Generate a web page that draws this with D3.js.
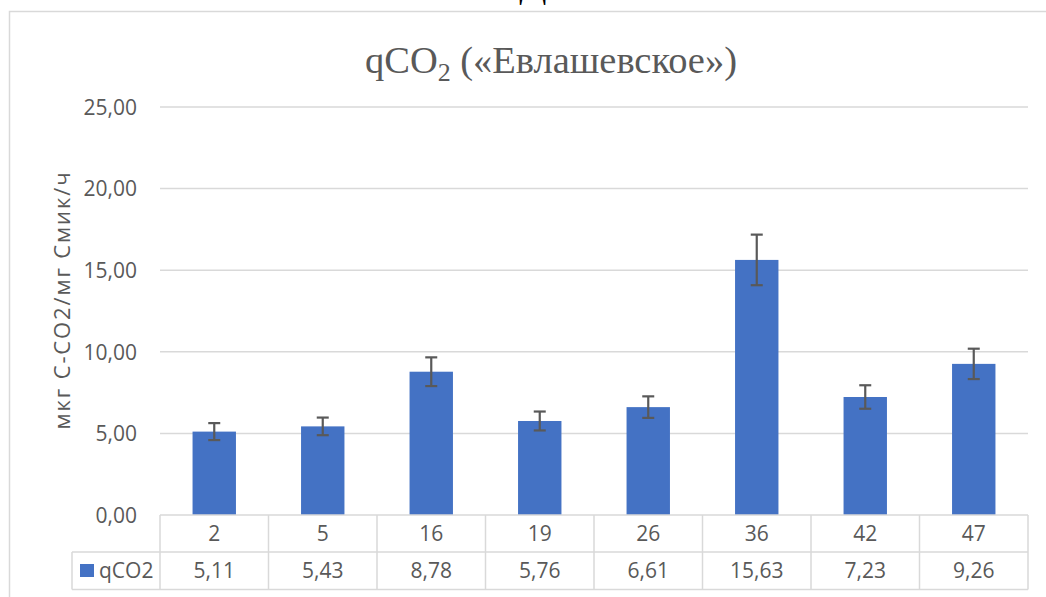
<!DOCTYPE html>
<html><head><meta charset="utf-8">
<script src="https://cdn.jsdelivr.net/npm/d3@7"></script>
<style>body{margin:0;background:#fff;} svg{display:block;}</style>
</head><body>
<svg id="c" width="1046" height="597"></svg>
<script>
const categories = ["2","5","16","19","26","36","42","47"];
const values = [5.11,5.43,8.78,5.76,6.61,15.63,7.23,9.26];
const errors = [0.52,0.54,0.88,0.58,0.66,1.55,0.72,0.93];
const yTicks = [0,5,10,15,20,25];
const seriesName = "qCO2";
const yLabel = "мкг С-СО2/мг Смик/ч";

(function(){
const svg = d3.select("#c");
const grid = "#d9d9d9", txt = "#595959", bar = "#4472c4";
const pL = 160, pR = 1028, pT = 107, pB = 515;
const fs = 21;
const x = d3.scaleBand().domain(categories).range([pL, pR]).paddingInner(0.6).paddingOuter(0.3);
const xCell = d3.scaleBand().domain(categories).range([pL, pR]);
const y = d3.scaleLinear().domain([0,25]).range([pB, pT]);
const fmt = v => d3.format(".2f")(v).replace(".", ",");

// cut-off heading glyph at top
svg.append("text").attr("x", 533).attr("y", -4).attr("text-anchor","middle")
  .attr("font-family","Liberation Serif").attr("font-size",40).attr("fill","#000").text("Д");

// chart border
svg.append("path").attr("d","M9.5,597 V11.5 H1046").attr("fill","none").attr("stroke",grid).attr("stroke-width",1.5);

// title
const t = svg.append("text").attr("x", 551).attr("y", 73).attr("text-anchor","middle")
  .attr("font-family","Liberation Serif").attr("font-size",37).attr("fill",txt)
  .attr("textLength",372).attr("lengthAdjust","spacingAndGlyphs");
t.append("tspan").text("qCO");
t.append("tspan").attr("font-size",25).attr("dy",8).text("2");
t.append("tspan").attr("dy",-8).text(" («Евлашевское»)");

// gridlines
svg.append("g").selectAll("line").data(yTicks.filter(d=>d>0)).join("line")
  .attr("x1", pL).attr("x2", pR).attr("y1", d=>y(d)).attr("y2", d=>y(d))
  .attr("stroke", grid).attr("stroke-width",1.5);

// y axis labels
const yAxis = d3.axisLeft(y).tickValues(yTicks).tickFormat(fmt).tickSize(0).tickPadding(0);
const ga = svg.append("g").attr("transform",`translate(137,0)`).call(yAxis);
ga.select(".domain").remove();
ga.selectAll("text").attr("font-family","Open Sans").attr("font-size",fs).attr("fill",txt).attr("dy","0.35em");

// y label
svg.append("text").attr("transform","translate(70,301) rotate(-90)").attr("text-anchor","middle")
  .attr("font-family","Open Sans").attr("font-size",22).attr("fill",txt)
  .attr("textLength",257).attr("lengthAdjust","spacing").text(yLabel);

// bars
svg.append("g").selectAll("rect").data(values).join("rect")
  .attr("x",(d,i)=>x(categories[i])).attr("width",x.bandwidth())
  .attr("y",d=>y(d)).attr("height",d=>y(0)-y(d)).attr("fill",bar);

// error bars
const eb = svg.append("g").attr("stroke","#595959").attr("stroke-width",2.2);
values.forEach((v,i)=>{
  const cx = x(categories[i]) + x.bandwidth()/2;
  const y1 = y(v+errors[i]), y2 = y(v-errors[i]);
  eb.append("line").attr("x1",cx).attr("x2",cx).attr("y1",y1).attr("y2",y2);
  eb.append("line").attr("x1",cx-6).attr("x2",cx+6).attr("y1",y1).attr("y2",y1);
  eb.append("line").attr("x1",cx-6).attr("x2",cx+6).attr("y1",y2).attr("y2",y2);
});

// data table
const r1 = 515, r2 = 552, r3 = 589.5;
const tg = svg.append("g").attr("stroke",grid).attr("stroke-width",1.5).attr("fill","none");
tg.append("line").attr("x1",pL).attr("x2",pR).attr("y1",r1).attr("y2",r1);
tg.append("line").attr("x1",72).attr("x2",pR).attr("y1",r2).attr("y2",r2);
tg.append("line").attr("x1",72).attr("x2",pR).attr("y1",r3).attr("y2",r3);
tg.append("line").attr("x1",72).attr("x2",72).attr("y1",r2).attr("y2",r3);
const bounds = categories.map(c=>xCell(c)).concat([pR]);
tg.selectAll("line.v").data(bounds).join("line").attr("class","v")
  .attr("x1",d=>d).attr("x2",d=>d).attr("y1",r1).attr("y2",r3);

svg.append("g").selectAll("text").data(categories).join("text")
  .attr("x",d=>xCell(d)+xCell.bandwidth()/2).attr("y",(r1+r2)/2).attr("dy","0.35em")
  .attr("text-anchor","middle").attr("font-family","Open Sans").attr("font-size",fs).attr("fill",txt).text(d=>d);
svg.append("g").selectAll("text").data(values).join("text")
  .attr("x",(d,i)=>xCell(categories[i])+xCell.bandwidth()/2).attr("y",(r2+r3)/2).attr("dy","0.35em")
  .attr("text-anchor","middle").attr("font-family","Open Sans").attr("font-size",fs).attr("fill",txt).text(fmt);

svg.append("rect").attr("x",80).attr("y",564).attr("width",14).attr("height",13).attr("fill",bar);
svg.append("text").attr("x",99).attr("y",(r2+r3)/2).attr("dy","0.35em")
  .attr("font-family","Open Sans").attr("font-size",fs).attr("fill",txt).text(seriesName);
})();
</script>
</body></html>
